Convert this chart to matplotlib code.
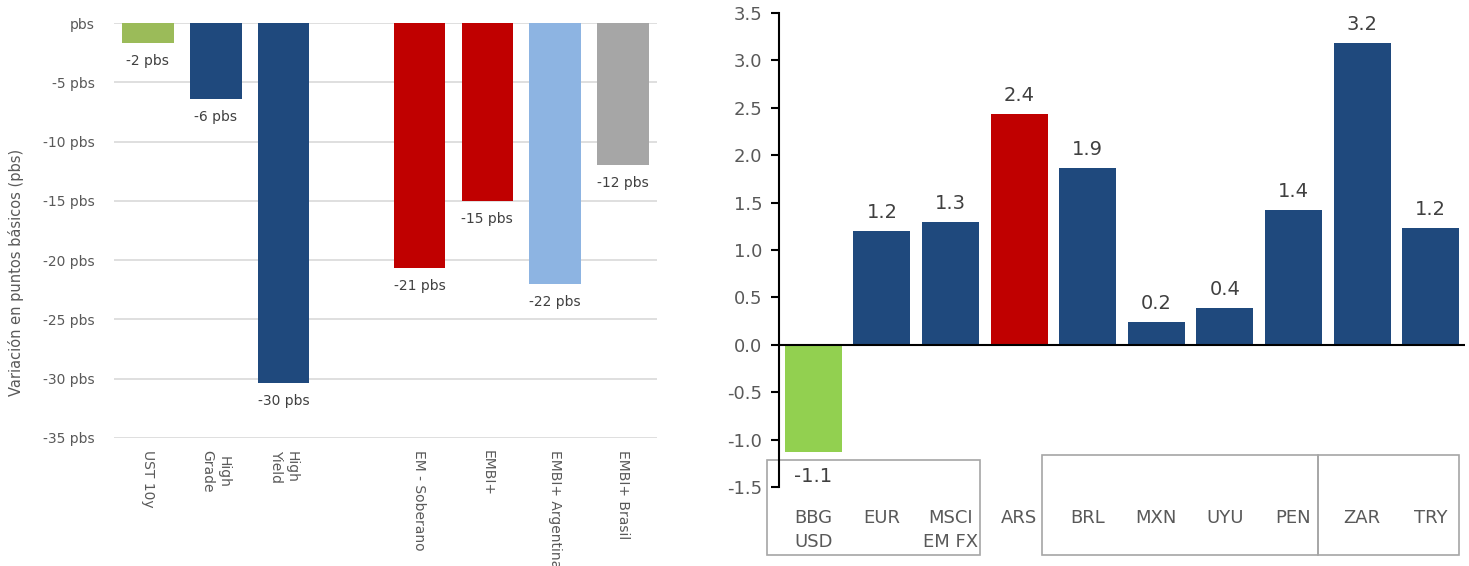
import numpy as np
import matplotlib
matplotlib.use("Agg")
import matplotlib.pyplot as plt
from matplotlib.patches import Rectangle

# ---- data -----------------------------------------------------------------
left_cats = ["UST 10y", "High\nGrade", "High\nYield", "",
             "EM - Soberano", "EMBI+", "EMBI+ Argentina", "EMBI+ Brasil"]
left_vals = [-1.7, -6.4, -30.4, np.nan, -20.7, -15.0, -22.0, -12.0]
left_cols = ["#9BBB59", "#1F497D", "#1F497D", "none",
             "#C00000", "#C00000", "#8DB4E2", "#A6A6A6"]
left_ticks = [0, -5, -10, -15, -20, -25, -30, -35]

right_cats = ["BBG\nUSD", "EUR", "MSCI\nEM FX", "ARS", "BRL",
              "MXN", "UYU", "PEN", "ZAR", "TRY"]
right_vals = [-1.13, 1.20, 1.30, 2.43, 1.86, 0.24, 0.39, 1.42, 3.18, 1.23]
right_cols = ["#92D050"] + ["#1F497D"] * 2 + ["#C00000"] + ["#1F497D"] * 6
right_ticks = np.arange(-1.5, 3.51, 0.5)

GREY_TXT = "#595959"
VAL_TXT = "#404040"

plt.rcParams.update({"font.family": "DejaVu Sans"})
fig = plt.figure(figsize=(14.69, 5.66), dpi=100)

# ---- left panel: spreads ---------------------------------------------------
axL = fig.add_axes([114 / 1469, 128 / 566, 543 / 1469, 415 / 566])
xl = np.arange(len(left_cats))
axL.bar(xl, np.nan_to_num(left_vals), width=0.76, color=left_cols, zorder=3)
for x, v in zip(xl, left_vals):
    if np.isnan(v):
        continue
    axL.annotate(f"{v:.0f} pbs", xy=(x, v), xytext=(0, -11),
                 textcoords="offset pixels", ha="center", va="top",
                 fontsize=10, color=VAL_TXT)
axL.set_xlim(-0.5, len(left_cats) - 0.5)
axL.set_ylim(-35, 0)
axL.set_yticks(left_ticks)
axL.set_yticklabels([f"{t} pbs" if t else "pbs" for t in left_ticks],
                    fontsize=10, color=GREY_TXT)
axL.set_xticks(xl)
axL.set_xticklabels(left_cats, rotation=-90, va="top", ha="center",
                    fontsize=10, color=GREY_TXT)
axL.tick_params(length=0)
axL.tick_params(axis="x", pad=9)
axL.tick_params(axis="y", pad=14)
axL.grid(axis="y", color="#D9D9D9", lw=1.2, zorder=0)
for s in axL.spines.values():
    s.set_visible(False)
axL.set_ylabel("Variación en puntos básicos (pbs)", fontsize=10.5,
               color=GREY_TXT)
axL.yaxis.set_label_coords(-0.166, 0.40)

# ---- right panel: currencies ----------------------------------------------
axR = fig.add_axes([779 / 1469, 79 / 566, 686 / 1469, 474 / 566])
xr = np.arange(len(right_cats))
axR.bar(xr, right_vals, width=0.83, color=right_cols, zorder=3)
for x, v in zip(xr, right_vals):
    if v >= 0:
        axR.annotate(f"{v:.1f}", xy=(x, v), xytext=(0, 9),
                     textcoords="offset pixels", ha="center", va="bottom",
                     fontsize=14, color=VAL_TXT)
    else:
        axR.annotate(f"{v:.1f}", xy=(x, v), xytext=(0, -15),
                     textcoords="offset pixels", ha="center", va="top",
                     fontsize=14, color=VAL_TXT)
axR.axhline(0, color="black", lw=1.5, zorder=4)
axR.set_xlim(-0.5, len(right_cats) - 0.5)
axR.set_ylim(-1.5, 3.5)
axR.set_yticks(right_ticks)
axR.set_yticklabels([f"{t:.1f}" for t in right_ticks], fontsize=13,
                    color=GREY_TXT)
axR.tick_params(axis="y", length=6, width=1.5, direction="out", pad=6)
axR.set_xticks([])
for s in ["top", "right", "bottom"]:
    axR.spines[s].set_visible(False)
axR.spines["left"].set_linewidth(1.5)

xt = axR.get_xaxis_transform()
for x, lab in zip(xr, right_cats):
    axR.text(x, -0.046, lab, transform=xt, ha="center", va="top",
             fontsize=13, color=GREY_TXT, linespacing=1.45)

# category boxes: (left edge, right edge, top) in x-data / axes-y units
boxes = [(-0.675, 2.43, 0.057), (3.33, 7.36, 0.0675), (7.36, 9.41, 0.0675)]
for x0, x1, top in boxes:
    axR.add_patch(Rectangle((x0, -0.143), x1 - x0, top + 0.143, transform=xt,
                            fill=False, ec="#A6A6A6", lw=1.2, clip_on=False))

fig.savefig("out.png", dpi=100)
